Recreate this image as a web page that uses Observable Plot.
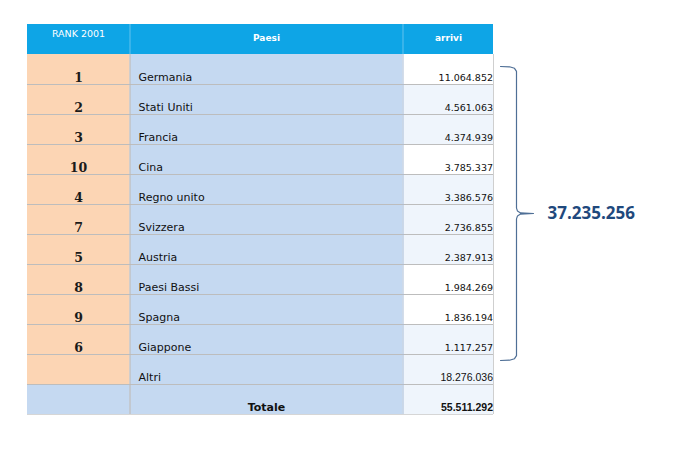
<!DOCTYPE html>
<html><head><meta charset="utf-8">
<script src="https://cdn.jsdelivr.net/npm/d3@7"></script>
<script src="https://cdn.jsdelivr.net/npm/@observablehq/plot@0.6"></script>
<style>html,body{margin:0;padding:0;background:#fff;}</style>
</head><body><div id="chart"></div>
<script>
// ---- data ----
const headers = ["RANK 2001", "Paesi", "arrivi"];
const ranks = ["1", "2", "3", "10", "4", "7", "5", "8", "9", "6"];
const paesi = ["Germania", "Stati Uniti", "Francia", "Cina", "Regno unito", "Svizzera", "Austria", "Paesi Bassi", "Spagna", "Giappone"];
const arrivi = [11064852, 4561063, 4374939, 3785337, 3386576, 2736855, 2387913, 1984269, 1836194, 1117257];
const altriLabel = "Altri";
const altriArrivi = 18276036;
const totaleLabel = "Totale";
const totaleArrivi = 55511292;
const top10Total = 37235256;

// ---- formatting / layout / style ----
const it = d3.formatLocale({decimal: ",", thousands: ".", grouping: [3], currency: ["", " €"]});
const fmt = it.format(",d");
const colEdges = [27, 129.5, 402.5, 493];
const colCenters = [78, 266, 448];
const C = {header: "#0ea5e6", rank: "#fcd5b4", paese: "#c5d9f1", arr: "#eff5fc", arrWhite: "#ffffff", grid: "#bdbdbd"};
const whiteArrRows = new Set([1, 4, 8, 9]);
const TY = 0.77; // text position inside a row (fraction)

const rows = paesi.map((p, i) => ({r: i + 1, rank: ranks[i], paese: p, val: arrivi[i]}));
rows.push({r: 11, rank: "", paese: altriLabel, val: altriArrivi});
const totalRow = {r: 12, rank: "", paese: totaleLabel, val: totaleArrivi};

const cells = [{x1: colEdges[0], x2: colEdges[3], y1: 0, y2: 1, fill: C.header}];
for (const d of rows) {
  cells.push({x1: colEdges[0], x2: colEdges[1], y1: d.r, y2: d.r + 1, fill: C.rank});
  cells.push({x1: colEdges[1], x2: colEdges[2], y1: d.r, y2: d.r + 1, fill: C.paese});
  cells.push({x1: colEdges[2], x2: colEdges[3], y1: d.r, y2: d.r + 1, fill: whiteArrRows.has(d.r) ? C.arrWhite : C.arr});
}
cells.push({x1: colEdges[0], x2: colEdges[2], y1: 12, y2: 13, fill: C.paese});
cells.push({x1: colEdges[2], x2: colEdges[3], y1: 12, y2: 13, fill: C.arr});

// brace (annotation) in px-x / row-y
const brace = [
  [500, 1.40], [509, 1.41], [514, 1.46], [516, 1.56], [516, 6.12], [517, 6.22], [520, 6.28], [533, 6.30],
  [520, 6.32], [517, 6.38], [516, 6.48], [516, 11.04], [514, 11.14], [509, 11.19], [500, 11.20]
];

const chart = Plot.plot({
  width: 673, height: 452, margin: 0,
  x: {domain: [0, 673], range: [0, 673], axis: null},
  y: {domain: [0, 13], range: [24, 414], axis: null},
  style: {background: "white", fontFamily: "DejaVu Sans"},
  marks: [
    Plot.rect(cells, {x1: "x1", x2: "x2", y1: "y1", y2: "y2", fill: "fill"}),
    Plot.ruleY(d3.range(2, 13), {y: d => d, x1: () => colEdges[0], x2: () => colEdges[3], stroke: C.grid, strokeWidth: 1}),
    Plot.ruleY([13], {y: d => d, x1: () => colEdges[0], x2: () => colEdges[3], stroke: "#d6d6d6", strokeWidth: 1}),
    Plot.ruleX([colEdges[1], colEdges[2]], {x: d => d, y1: () => 0, y2: () => 1, stroke: "#62c2ee", strokeWidth: 1}),
    Plot.ruleX([colEdges[1]], {x: d => d, y1: () => 1, y2: () => 13, stroke: "#c0b8b0", strokeWidth: 1}),
    Plot.ruleX([colEdges[2]], {x: d => d, y1: () => 1, y2: () => 13, stroke: "#a8bcd6", strokeWidth: 1}),
    Plot.ruleX([colEdges[3]], {x: d => d, y1: () => 1, y2: () => 13, stroke: "#cfcfcf", strokeWidth: 1}),
    // header
    Plot.text([headers[0]], {x: () => colCenters[0], y: () => 0.3, text: d => d, fill: "white", fontSize: 9.5, fontFamily: "DejaVu Sans"}),
    Plot.text(headers.slice(1), {x: (d, i) => colCenters[i + 1], y: () => 0.47, text: d => d, fill: "white", fontSize: 9, fontWeight: "bold", fontFamily: "DejaVu Sans"}),
    // body
    Plot.text(rows, {x: () => colCenters[0], y: d => d.r + TY, text: "rank", fontSize: 12.5, fontWeight: "bold", fontFamily: "DejaVu Serif", fill: "#1a1a1a"}),
    Plot.text(rows, {x: () => 138, y: d => d.r + TY, text: "paese", textAnchor: "start", fontSize: 11, fontFamily: "DejaVu Sans", fill: "#111"}),
    Plot.text(rows.slice(0, 10), {x: () => 492.5, y: d => d.r + TY, text: d => fmt(d.val), textAnchor: "end", fontSize: 9.5, fontFamily: "DejaVu Sans", fill: "#111"}),
    Plot.text(rows.slice(10), {x: () => 492.5, y: d => d.r + TY, text: d => fmt(d.val), textAnchor: "end", fontSize: 10.5, fontFamily: "Liberation Sans", fill: "#111"}),
    Plot.text([totalRow], {x: () => colCenters[1], y: d => d.r + TY, text: "paese", fontSize: 11, fontWeight: "bold", fontFamily: "DejaVu Sans", fill: "#111"}),
    Plot.text([totalRow], {x: () => 492.5, y: d => d.r + TY, text: d => fmt(d.val), textAnchor: "end", fontSize: 10.5, fontWeight: "bold", fontFamily: "Liberation Sans", fill: "#111"}),
    // brace + subtotal
    Plot.line(brace, {x: d => d[0], y: d => d[1], stroke: "#4f6f96", strokeWidth: 1.2}),
    Plot.text([top10Total], {x: () => 547, y: () => 6.3, text: d => fmt(d), textAnchor: "start", fontSize: 17, fontWeight: "bold", fontFamily: "Open Sans", fill: "#1f497d"})
  ]
});
document.getElementById("chart").appendChild(chart);
</script>
</body></html>
